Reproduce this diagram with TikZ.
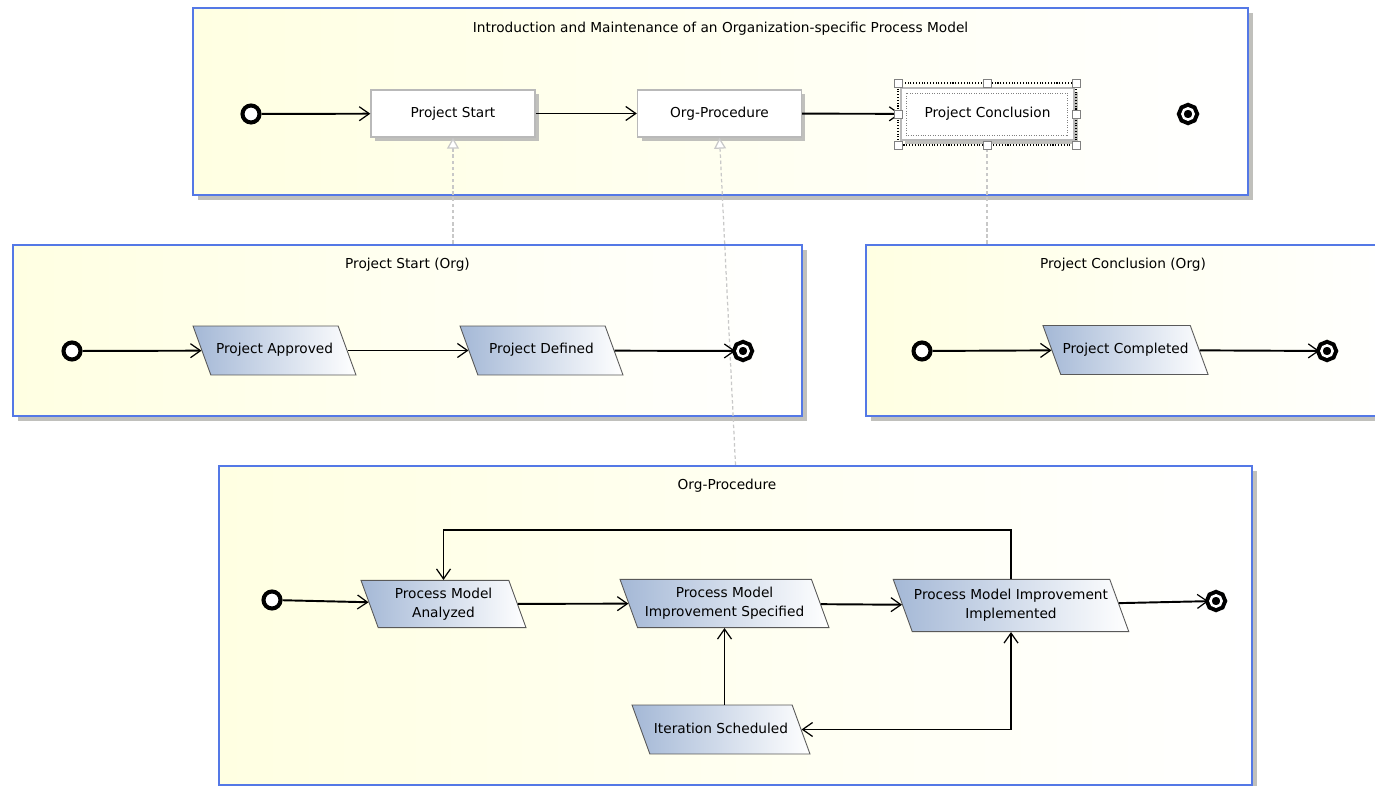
\documentclass[tikz,border=0pt]{standalone}
\usepackage{fontspec}
\setmainfont{DejaVu Sans}
\usepackage{xcolor}
\usepackage{tikz}
\usetikzlibrary{shapes.geometric, arrows.meta, positioning, calc, shadows}
\definecolor{frameblue}{RGB}{84,120,230}
\definecolor{frameyellow}{RGB}{255,255,226}
\definecolor{shadowgray}{RGB}{192,192,188}
\definecolor{eventblue}{RGB}{164,184,214}
\definecolor{linkgray}{RGB}{200,200,200}
\tikzset{
  frame/.style={
    rectangle,
    draw=frameblue,
    line width=1.2pt,
    left color=frameyellow,
    right color=white,
    general shadow={fill=shadowgray, shadow xshift=0.1cm, shadow yshift=-0.1cm}
  },
  title/.style={
    inner sep=0pt
  },
  activity/.style={
    rectangle,
    minimum width=3.28cm,
    minimum height=0.94cm,
    draw=gray!55,
    fill=white,
    line width=0.8pt,
    general shadow={fill=shadowgray, shadow xshift=0.08cm, shadow yshift=-0.08cm}
  },
  event/.style={
    trapezium,
    trapezium left angle=110,
    trapezium right angle=70,
    trapezium stretches body=true,
    minimum width=3.26cm,
    align=center,
    inner xsep=1pt,
    inner ysep=0.153cm,
    draw=black!65,
    line width=0.5pt,
    left color=eventblue,
    right color=white
  },
  single/.style={
    text height=0.21cm,
    text depth=0.07cm,
    inner ysep=0.35cm
  },
  initial/.style={
    circle,
    minimum size=0.34cm,
    inner sep=0pt,
    draw=black,
    line width=2.3pt,
    fill=white
  },
  final/.style={
    circle,
    minimum size=0.226cm,
    inner sep=0pt,
    draw=black,
    fill=black,
    line width=2.3pt,
    double=white,
    double distance=1.4pt
  },
  handle/.style={
    rectangle,
    minimum size=0.16cm,
    inner sep=0pt,
    draw=gray,
    fill=white,
    line width=0.5pt
  },
  flow/.style={
    line width=1.1pt,
    ->,
    >={Straight Barb[length=2mm, width=2.8mm, line width=0.7pt]}
  },
  realize/.style={
    draw=linkgray,
    dash pattern=on 2pt off 1.5pt,
    line width=0.7pt,
    -{Triangle[fill=white, length=2.2mm, width=2.4mm]}
  }
}

\begin{document}
\begin{tikzpicture}[x=0.02cm, y=-0.02cm, font=\fontsize{7.8}{10.6}\selectfont]
\useasboundingbox (0,0) rectangle (1375,786);
\clip (0,0) rectangle (1375,786);

% Frames
\node (mainframe) [frame, minimum width=21.1cm, minimum height=3.74cm] at (720.5,101.5) {};
\node (startframe) [frame, minimum width=15.78cm, minimum height=3.42cm] at (407.5,330.5) {};
\node (conclframe) [frame, minimum width=10.6cm, minimum height=3.42cm] at (1131,330.5) {};
\node (procframe) [frame, minimum width=20.66cm, minimum height=6.38cm] at (735.5,625.5) {};

% Titles
\node (maintitle) [title, below=0.29cm of mainframe.north] {Introduction and Maintenance of an Organization-specific Process Model};
\node (starttitle) [title, below=0.28cm of startframe.north] {Project Start (Org)};
\node (concltitle) [title] at (1123,265) {Project Conclusion (Org)};
\node (proctitle) [title] at (727,486) {Org-Procedure};

% Nodes
\node (init1) [initial] at (251,114) {};
\node (pstart) [activity] at (453,113.5) {Project Start};
\node (orgproc) [activity] at (719.5,113.5) {Org-Procedure};
\node (pconcl) [activity, minimum width=3.46cm, minimum height=1.04cm] at (987.5,114) {Project Conclusion};
\node (final1) [final] at (1188,114) {};

\node (init2) [initial] at (72,351) {};
\node (approved) [event, single] at (274.5,350.5) {Project Approved};
\node (defined) [event, single] at (541.5,350.5) {Project Defined};
\node (final2) [final] at (743,351) {};

\node (init3) [initial] at (922,351) {};
\node (completed) [event, single] at (1125.5,350) {Project Completed};
\node (final3) [final] at (1327,351) {};

\node (init4) [initial] at (272,600) {};
\node (analyzed) [event, minimum width=3.3cm] at (443.5,604) {Process Model\\Analyzed};
\node (specified) [event, minimum width=4.18cm, inner ysep=0.163cm] at (724.5,603.5) {Process Model\\Improvement Specified};
\node (implemented) [event, minimum width=4.6cm, inner ysep=0.203cm] at (1011,605.5) {Process Model Improvement\\Implemented};
\node (final4) [final] at (1216,601) {};
\node (iteration) [event, single, minimum width=3.56cm] at (721,729.5) {Iteration Scheduled};

% Selection of Project Conclusion
\foreach \hx/\hy [count=\k] in {898/83,987/83,1076/83,898/114,1076/114,898/145,987/145,1076/145}
  \coordinate (c\k) at (\hx,\hy);
\draw [densely dotted, gray] ($(pconcl.north west)+(6,6)$) rectangle ($(pconcl.south east)+(-7,-5)$);

% Links to the refined diagrams
\draw [realize] (startframe.north -| pstart.south) -- (pstart.south);
\draw [realize] (procframe.north) -- (orgproc.south);
\draw [realize, -] (conclframe.north -| c7) -- (c7);

% Arrows
\draw [flow] (init1) -- (pstart);
\draw [flow] (pstart) -- (orgproc);
\draw [flow] (orgproc) -- (pconcl);
\draw [flow] (init2) -- (approved);
\draw [flow] (approved) -- (defined);
\draw [flow] (defined) -- (final2);
\draw [flow] (init3) -- (completed);
\draw [flow] (completed) -- (final3);
\draw [flow] (init4) -- (analyzed);
\draw [flow] (analyzed) -- (specified);
\draw [flow] (specified) -- (implemented);
\draw [flow] (implemented) -- (final4);
\draw [flow] (implemented.north) -- ++(0,-49) -| (analyzed.north);
\draw [flow] (iteration.north -| specified.south) -- (specified.south);
\draw [flow, <->] (iteration.east) -| (implemented.south);

% Handles
\draw [densely dotted, line width=0.6pt] (c1) rectangle (c8);
\foreach \k in {1,...,8}
  \node (h\k) [handle] at (c\k) {};
\end{tikzpicture}
\end{document}
